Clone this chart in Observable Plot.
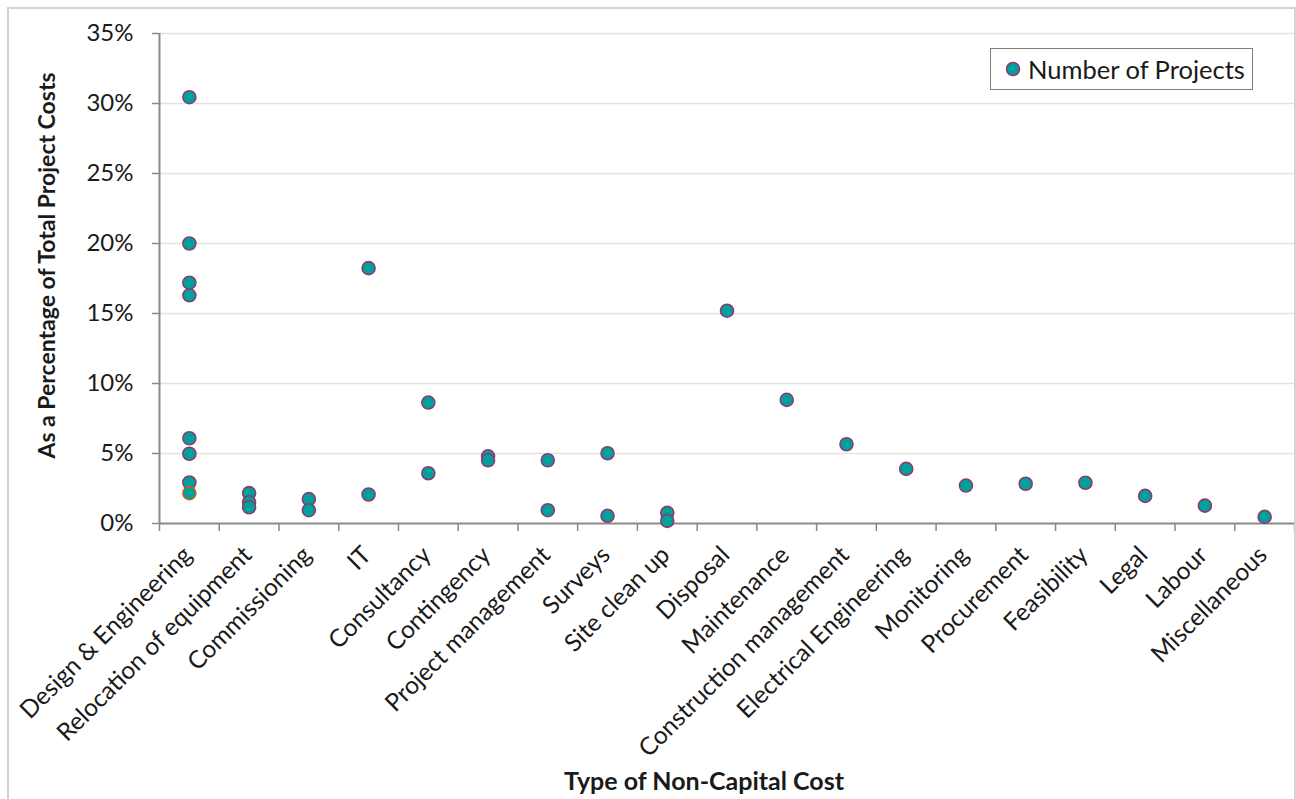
<!DOCTYPE html>
<html>
<head>
<meta charset="utf-8">
<script src="https://cdn.jsdelivr.net/npm/d3@7"></script>
<script src="https://cdn.jsdelivr.net/npm/@observablehq/plot@0.6"></script>
<style>
  html, body { margin: 0; padding: 0; background: #fff; overflow: hidden; }
  #wrap { position: relative; width: 1296px; height: 799px; }
  #frame { position: absolute; left: 7px; top: 7px; width: 1289px; height: 900px; border: 2px solid #d3d3d3; box-sizing: border-box; pointer-events: none; }
  #legend { position: absolute; left: 990px; top: 48px; width: 263px; height: 42px; border: 1.3px solid #808080; box-sizing: border-box; background: #fff;
            font-family: Lato, sans-serif; font-size: 25.5px; color: #1a1a1a; display: flex; align-items: center; }
  #legend svg { margin-left: 14px; margin-right: 7px; }
</style>
</head>
<body>
<div id="wrap">
  <div id="chart"></div>
  <div id="frame"></div>
  <div id="legend"><svg width="16" height="16"><circle cx="8" cy="8" r="6.5" fill="#00a19a" stroke="#8e3a72" stroke-width="1.5"/></svg><span>Number of Projects</span></div>
</div>
<script>
// Categories along the x axis
const categories = [
  "Design & Engineering", "Relocation of equipment", "Commissioning", "IT",
  "Consultancy", "Contingency", "Project management", "Surveys", "Site clean up",
  "Disposal", "Maintenance", "Construction management", "Electrical Engineering",
  "Monitoring", "Procurement", "Feasibility", "Legal", "Labour", "Miscellaneous"
];

// Each project point: category and share of total project costs
const pointCategory = [
  "Design & Engineering", "Design & Engineering", "Design & Engineering", "Design & Engineering",
  "Design & Engineering", "Design & Engineering", "Design & Engineering",
  "Relocation of equipment", "Relocation of equipment", "Relocation of equipment",
  "Commissioning", "Commissioning",
  "IT", "IT",
  "Consultancy", "Consultancy",
  "Contingency", "Contingency",
  "Project management", "Project management",
  "Surveys", "Surveys",
  "Site clean up", "Site clean up",
  "Disposal", "Maintenance", "Construction management", "Electrical Engineering",
  "Monitoring", "Procurement", "Feasibility", "Legal", "Labour", "Miscellaneous"
];
const pointValue = [
  0.3045, 0.200, 0.172, 0.163, 0.0609, 0.0498, 0.0293,
  0.0217, 0.0152, 0.0116,
  0.0174, 0.0095,
  0.1824, 0.0207,
  0.0864, 0.0359,
  0.0480, 0.0452,
  0.0452, 0.0095,
  0.0502, 0.0055,
  0.0076, 0.0019,
  0.152, 0.0883, 0.0566, 0.0390,
  0.0271, 0.0284, 0.0291, 0.0197, 0.0128, 0.0047
];

// One point drawn with an orange outline
const orangeCategory = ["Design & Engineering"];
const orangeValue = [0.0217];

// Tick values
const yTicks = [0, 0.05, 0.10, 0.15, 0.20, 0.25, 0.30, 0.35];
const xTitle = "Type of Non-Capital Cost";
const yTitle = "As a Percentage of Total Project Costs";

const idx = c => categories.indexOf(c) + 0.5;
const points = pointCategory.map((c, i) => ({x: idx(c), y: pointValue[i]}));
const orange = orangeCategory.map((c, i) => ({x: idx(c), y: orangeValue[i]}));
const boundaries = d3.range(0, categories.length + 1);

const chart = Plot.plot({
  width: 1296,
  height: 799,
  marginLeft: 159,
  marginRight: 2,
  marginTop: 33,
  marginBottom: 276,
  style: {fontFamily: "Lato, sans-serif", fontSize: "24px", color: "#1a1a1a", background: "transparent", overflow: "visible"},
  x: {domain: [0, categories.length]},
  y: {domain: [0, 0.35]},
  marks: [
    Plot.gridY(yTicks.slice(1), {stroke: "#e2e2e2", strokeOpacity: 1, strokeWidth: 1.5}),
    Plot.axisY(yTicks, {tickFormat: d3.format(".0%"), tickSize: 7, tickPadding: 19, stroke: "#888", strokeWidth: 1.5, fontSize: 24, label: null}),
    Plot.axisX(boundaries, {tickFormat: () => "", tickSize: 8, tickPadding: 0, stroke: "#888", strokeWidth: 1.5, label: null}),
    Plot.ruleX([0], {stroke: "#8a8a8a", strokeWidth: 2}),
    Plot.ruleY([0], {stroke: "#8a8a8a", strokeWidth: 2}),
    Plot.text(categories, {x: (d, i) => i + 0.5, text: d => d, frameAnchor: "bottom", rotate: -45, textAnchor: "end", dx: 4, dy: 33, fontSize: 24.5}),
    Plot.dot(points, {x: "x", y: "y", r: 6.5, fill: "#00a19a", stroke: "#8e3a72", strokeWidth: 1.6}),
    Plot.dot(orange, {x: "x", y: "y", r: 6.5, fill: "#00a19a", stroke: "#c5601a", strokeWidth: 1.6}),
    Plot.text([yTitle], {frameAnchor: "left", textAnchor: "middle", rotate: -90, dx: -112, dy: -13, fontWeight: "bold", fontSize: 23}),
    Plot.text([xTitle], {frameAnchor: "bottom", textAnchor: "middle", dx: -23, dy: 266, fontWeight: "bold", fontSize: 25})
  ]
});
document.getElementById("chart").appendChild(chart);
</script>
</body>
</html>
